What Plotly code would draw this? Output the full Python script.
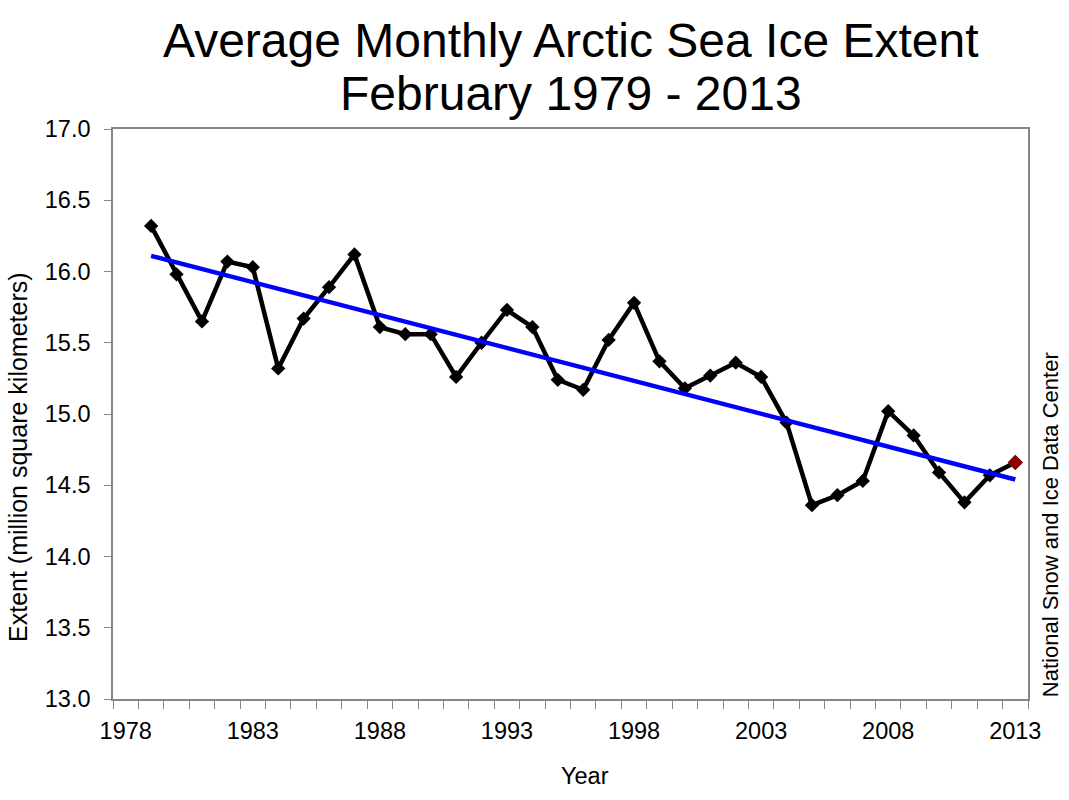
import plotly.graph_objects as go

years = list(range(1979, 2014))
extent = [16.32, 15.98, 15.65, 16.07, 16.03, 15.32, 15.67, 15.89, 16.12, 15.61,
          15.56, 15.56, 15.26, 15.50, 15.73, 15.61, 15.24, 15.17, 15.52, 15.78,
          15.37, 15.18, 15.27, 15.36, 15.26, 14.94, 14.36, 14.43, 14.53, 15.02,
          14.85, 14.59, 14.38, 14.57, 14.66]
trend_years = [1979, 2013]
trend_values = [16.11, 14.54]
x_tick_years = [1978, 1983, 1988, 1993, 1998, 2003, 2008, 2013]
y_tick_values = [13.0, 13.5, 14.0, 14.5, 15.0, 15.5, 16.0, 16.5, 17.0]

FONT = "Liberation Sans, Arial, sans-serif"
GRAY = "#868686"

fig = go.Figure()
fig.add_trace(go.Scatter(
    x=years, y=extent, mode="lines+markers",
    line=dict(color="black", width=4.5),
    marker=dict(symbol="diamond", size=11, color="black"),
    showlegend=False))
fig.add_trace(go.Scatter(
    x=trend_years, y=trend_values, mode="lines",
    line=dict(color="#0000FF", width=4.5), showlegend=False))
fig.add_trace(go.Scatter(
    x=years[-1:], y=extent[-1:], mode="markers",
    marker=dict(symbol="diamond", size=12, color="#8B0000"),
    showlegend=False))

fig.update_layout(
    width=1069, height=800,
    margin=dict(l=113, r=41, t=129, b=101),
    paper_bgcolor="white", plot_bgcolor="white",
    font=dict(family=FONT, color="black"),
    xaxis=dict(
        range=[1977.5, 2013.5], tickmode="array", tickvals=x_tick_years,
        ticktext=[str(v) for v in x_tick_years], ticks="", automargin=False,
        tickfont=dict(size=23.5), ticklabelstandoff=10,
        showgrid=False, zeroline=False,
        showline=True, linecolor=GRAY, linewidth=1.5, mirror=True,
        minor=dict(tick0=1977.5, dtick=1, ticks="outside", ticklen=8,
                   tickcolor=GRAY, tickwidth=1.2, showgrid=False),
    ),
    yaxis=dict(
        range=[13.0, 17.0], tickmode="array", tickvals=y_tick_values,
        ticktext=[f"{v:.1f}" for v in y_tick_values], automargin=False,
        ticks="outside", ticklen=7, tickcolor=GRAY, tickwidth=1.2,
        tickfont=dict(size=23.5), ticklabelstandoff=9,
        showgrid=False, zeroline=False,
        showline=True, linecolor=GRAY, linewidth=1.5, mirror=True,
    ),
    annotations=[
        dict(text="Average Monthly Arctic Sea Ice Extent", xref="paper", yref="paper",
             x=0.5, y=1.0, yshift=89, xanchor="center", yanchor="middle",
             showarrow=False, font=dict(size=48, family=FONT)),
        dict(text="February 1979 - 2013", xref="paper", yref="paper",
             x=0.5, y=1.0, yshift=36, xanchor="center", yanchor="middle",
             showarrow=False, font=dict(size=48, family=FONT)),
        dict(text="Extent (million square kilometers)", xref="paper", yref="paper",
             x=0.0, y=0.4246, xshift=-95, xanchor="center", yanchor="middle",
             textangle=-90, showarrow=False, font=dict(size=25, family=FONT)),
        dict(text="Year", xref="paper", yref="paper",
             x=0.516, y=0.0, yshift=-77, xanchor="center", yanchor="middle",
             showarrow=False, font=dict(size=23.5, family=FONT)),
        dict(text="National Snow and Ice Data Center", xref="paper", yref="paper",
             x=1.0, y=0.305, xshift=22, xanchor="center", yanchor="middle",
             textangle=-90, showarrow=False, font=dict(size=22, family=FONT)),
    ],
)

fig.write_html("out.html", config={"displayModeBar": False},
               post_script="document.body.style.margin='0';")
